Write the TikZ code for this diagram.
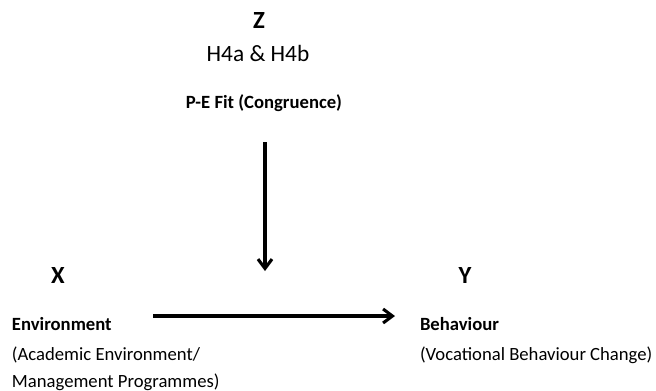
\documentclass[tikz,border=0pt]{standalone}
\usepackage{fontspec}
\setmainfont{Carlito}
\usetikzlibrary{arrows.meta}
\begin{document}
\begin{tikzpicture}[x=0.75pt,y=-0.75pt,
  every node/.style={inner sep=0pt,outer sep=0pt},
  varlabel/.style={font=\fontsize{18.5}{20}\selectfont\bfseries,anchor=base},
  head/.style={font=\fontsize{14}{16}\selectfont\bfseries,anchor=base west},
  body/.style={font=\fontsize{14}{16}\selectfont,anchor=base west},
  link/.style={line width=2.3pt,-{Straight Barb[length=7pt,width=10.5pt,line width=2.3pt]}}]
\useasboundingbox (0,0) rectangle (656,390);

% moderator Z
\node[varlabel] (z) at (259,28) {Z};
\node[font=\fontsize{17.5}{20}\selectfont,anchor=base] (hyp) at (258,61) {H4a \& H4b};
\node[font=\fontsize{14}{16}\selectfont\bfseries,anchor=base] (fit) at (264,108) {P-E Fit (Congruence)};

% independent variable X
\node[varlabel] (x) at (58,283) {X};
\node[head] (env) at (12,330) {Environment};
\node[body] (env1) at (12,360) {(Academic Environment/};
\node[body] (env2) at (12,387) {Management Programmes)};

% dependent variable Y
\node[varlabel] (y) at (465,283) {Y};
\node[head] (beh) at (420,330) {Behaviour};
\node[body] (beh1) at (420,360) {(Vocational Behaviour Change)};

% connectors
\coordinate (vtop) at (265,142);
\coordinate (vend) at (265,271);
\coordinate (hstart) at (153,316);
\coordinate (hend) at (395,316);
\draw[link] (vtop) -- (vend);
\draw[link] (hstart) -- (hend);
\end{tikzpicture}
\end{document}
